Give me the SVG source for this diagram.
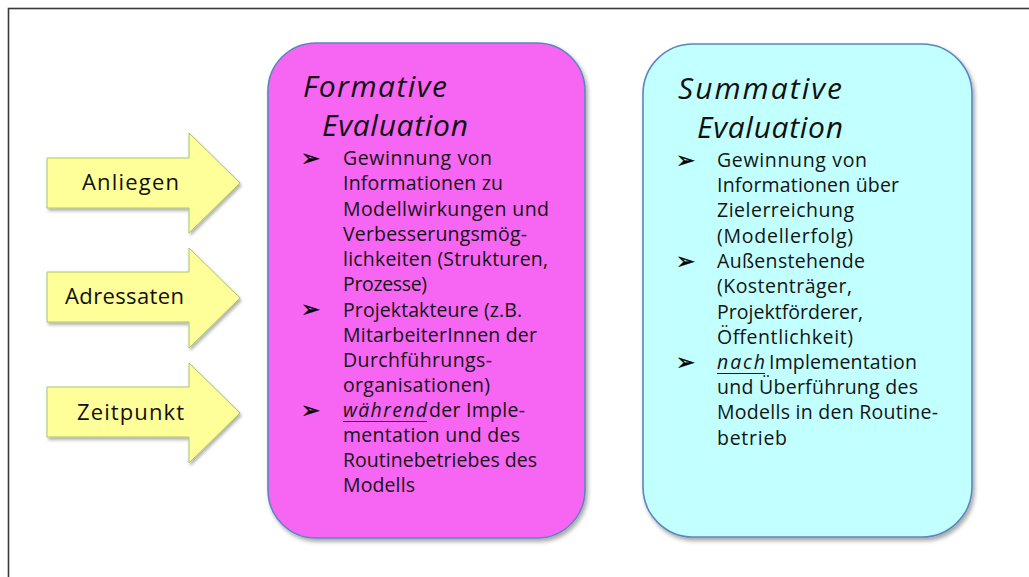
<svg xmlns="http://www.w3.org/2000/svg" width="1029" height="577" viewBox="0 0 1029 577">
  <defs>
    <filter id="shadow" x="-10%" y="-10%" width="125%" height="125%">
      <feDropShadow dx="2" dy="3" stdDeviation="2" flood-color="#000" flood-opacity="0.35"/>
    </filter>
    <filter id="ashadow" x="-10%" y="-10%" width="125%" height="130%">
      <feDropShadow dx="1.5" dy="2.5" stdDeviation="1.5" flood-color="#000" flood-opacity="0.3"/>
    </filter>
    <style>
      .frame { fill: none; stroke: #3a3a3a; stroke-width: 1.6; }
      .arrow { fill: #FFFF99; stroke: #A9C46A; stroke-width: 1; filter: url(#ashadow); }
      .alabel { font-family: "Open Sans", "DejaVu Sans", sans-serif; font-size: 22px; fill: #111; }
      .box { stroke: #5B86C0; stroke-width: 1.6; filter: url(#shadow); }
      .magenta { fill: #F666F2; }
      .cyan { fill: #C2FFFF; }
      .title { font-family: "Open Sans", "DejaVu Sans", sans-serif; font-style: italic; font-size: 30px; fill: #111; }
      .body { font-family: "Open Sans", "DejaVu Sans", sans-serif; font-size: 19.5px; fill: #141414; }
      .em { font-style: italic; }
      .ul { stroke: #1a1a1a; stroke-width: 1.2; }
      .bullet { font-family: "DejaVu Sans", sans-serif; font-size: 23px; fill: #000; stroke: #000; stroke-width: 0.4; }
    </style>
  </defs>

  <rect class="frame" x="8.5" y="8.5" width="1040" height="600"/>

  <g id="arrows">
    <g id="arrow-anliegen">
      <path class="arrow" d="M47,158 H189 V133 L240,183 L189,233 V208 H47 Z"/>
      <text class="alabel" x="82" y="190" textLength="97">Anliegen</text>
    </g>
    <g id="arrow-adressaten">
      <path class="arrow" d="M47,272 H189 V248 L240,298 L189,348 V322 H47 Z"/>
      <text class="alabel" x="65" y="304" textLength="119">Adressaten</text>
    </g>
    <g id="arrow-zeitpunkt">
      <path class="arrow" d="M47,387 H189 V363 L240,413 L189,463 V437 H47 Z"/>
      <text class="alabel" x="77" y="420" textLength="107">Zeitpunkt</text>
    </g>
  </g>

  <g id="connectors"></g>

  <g id="formative">
    <rect class="box magenta" x="268" y="43" width="317" height="495" rx="48" ry="48"/>
    <text class="title" x="303" y="97" textLength="144">Formative</text>
    <text class="title" x="322" y="136" textLength="146">Evaluation</text>
    <text class="bullet" x="301" y="166">➢</text>
    <text class="bullet" x="301" y="317">➢</text>
    <text class="bullet" x="301" y="418">➢</text>
    <text class="body" x="343" y="165" textLength="149">Gewinnung von</text>
    <text class="body" x="343" y="190" textLength="160">Informationen zu</text>
    <text class="body" x="343" y="215.5" textLength="206">Modellwirkungen und</text>
    <text class="body" x="343" y="240.5" textLength="184">Verbesserungsmög-</text>
    <text class="body" x="343" y="265.5" textLength="205">lichkeiten (Strukturen,</text>
    <text class="body" x="343" y="291" textLength="84">Prozesse)</text>
    <text class="body" x="343" y="316.5" textLength="179">Projektakteure (z.B.</text>
    <text class="body" x="343" y="341.5" textLength="194">MitarbeiterInnen der</text>
    <text class="body" x="343" y="366.5" textLength="149">Durchführungs-</text>
    <text class="body" x="343" y="391.5" textLength="147">organisationen)</text>
    <text class="body em" x="343" y="417" textLength="84">während</text>
    <line class="ul" x1="343" y1="421.5" x2="427" y2="421.5"/>
    <text class="body" x="429" y="417" textLength="96">der Imple-</text>
    <text class="body" x="343" y="442" textLength="177">mentation und des</text>
    <text class="body" x="343" y="467" textLength="194">Routinebetriebes des</text>
    <text class="body" x="343" y="492" textLength="72">Modells</text>
  </g>

  <g id="summative">
    <rect class="box cyan" x="643" y="44" width="329" height="493" rx="50" ry="50"/>
    <text class="title" x="678" y="99" textLength="164">Summative</text>
    <text class="title" x="697" y="138" textLength="146">Evaluation</text>
    <text class="bullet" x="676" y="167.5">➢</text>
    <text class="bullet" x="676" y="268.5">➢</text>
    <text class="bullet" x="676" y="369.5">➢</text>
    <text class="body" x="717" y="166.5" textLength="150">Gewinnung von</text>
    <text class="body" x="717" y="192" textLength="182">Informationen über</text>
    <text class="body" x="717" y="217" textLength="137">Zielerreichung</text>
    <text class="body" x="717" y="242.5" textLength="136">(Modellerfolg)</text>
    <text class="body" x="717" y="267.5" textLength="148">Außenstehende</text>
    <text class="body" x="717" y="293" textLength="135">(Kostenträger,</text>
    <text class="body" x="717" y="318.5" textLength="146">Projektförderer,</text>
    <text class="body" x="717" y="343.5" textLength="136">Öffentlichkeit)</text>
    <text class="body em" x="717" y="369" textLength="48">nach</text>
    <line class="ul" x1="717" y1="373.5" x2="765" y2="373.5"/>
    <text class="body" x="769" y="369" textLength="148">Implementation</text>
    <text class="body" x="717" y="394" textLength="201">und Überführung des</text>
    <text class="body" x="717" y="419" textLength="221">Modells in den Routine-</text>
    <text class="body" x="717" y="444.5" textLength="70">betrieb</text>
  </g>
</svg>
